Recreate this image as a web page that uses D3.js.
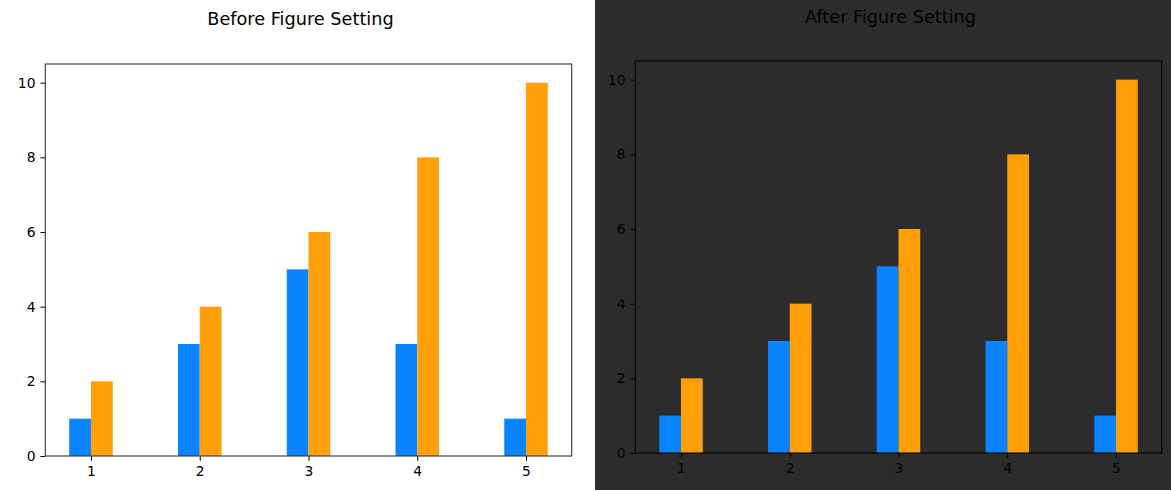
<!DOCTYPE html>
<html>
<head>
<meta charset="utf-8">
<script src="https://cdn.jsdelivr.net/npm/d3@7"></script>
<style>
  html, body { margin: 0; padding: 0; background: #ffffff; }
  svg { display: block; }
  text { font-family: "DejaVu Sans", sans-serif; }
</style>
</head>
<body>
<svg id="chart" width="1171" height="490"></svg>
<script>
const categories = [1, 2, 3, 4, 5];
const seriesA = [1, 3, 5, 3, 1];
const seriesB = [2, 4, 6, 8, 10];
const yTickValues = [0, 2, 4, 6, 8, 10];
const titles = ["Before Figure Setting", "After Figure Setting"];

const svg = d3.select("#chart");
const W = 1171, H = 490;

const panels = [
  { x0: 0, x1: 595, bg: "#ffffff", left: 45.3, right: 571.7, top: 64, bottom: 456, fg: "#000000", frame: "#333333", titleY: 25, title: titles[0] },
  { x0: 595, x1: 1171, bg: "#2c2c2e", left: 635.3, right: 1161.7, top: 61, bottom: 453, fg: "#000000", frame: "#000000", titleY: 23, title: titles[1] }
];

const barW = 0.2;
const colorA = "#0a84ff";
const colorB = "#ff9f0a";

panels.forEach(p => {
  const g = svg.append("g");
  g.append("rect").attr("x", p.x0).attr("y", 0).attr("width", p.x1 - p.x0).attr("height", H).attr("fill", p.bg);

  const x = d3.scaleLinear().domain([0.58, 5.42]).range([p.left, p.right]);
  const y = d3.scaleLinear().domain([0, 10.5]).range([p.bottom, p.top]);

  g.selectAll(".barA").data(categories).enter().append("rect")
    .attr("x", (d) => x(d - barW))
    .attr("width", (d) => x(d) - x(d - barW))
    .attr("y", (d, i) => y(seriesA[i]))
    .attr("height", (d, i) => y(0) - y(seriesA[i]))
    .attr("fill", colorA);
  g.selectAll(".barB").data(categories).enter().append("rect")
    .attr("x", (d) => x(d))
    .attr("width", (d) => x(d + barW) - x(d))
    .attr("y", (d, i) => y(seriesB[i]))
    .attr("height", (d, i) => y(0) - y(seriesB[i]))
    .attr("fill", colorB);

  const xAxis = d3.axisBottom(x).tickValues(categories).tickSizeInner(4.9).tickSizeOuter(0).tickPadding(4.9).tickFormat(d3.format("d"));
  const yAxis = d3.axisLeft(y).tickValues(yTickValues).tickSizeInner(4.9).tickSizeOuter(0).tickPadding(4.9).tickFormat(d3.format("d"));

  const gx = g.append("g").attr("transform", `translate(0,${p.bottom})`).call(xAxis);
  const gy = g.append("g").attr("transform", `translate(${p.left},0)`).call(yAxis);
  [gx, gy].forEach(ax => {
    ax.select(".domain").remove();
    ax.selectAll(".tick line").attr("stroke", p.fg).attr("stroke-width", 1);
    ax.selectAll(".tick text").attr("fill", p.fg).style("font-size", "13.9px").style("font-family", "DejaVu Sans, sans-serif");
  });

  g.append("rect")
    .attr("x", p.left).attr("y", p.top)
    .attr("width", p.right - p.left).attr("height", p.bottom - p.top)
    .attr("fill", "none").attr("stroke", p.frame).attr("stroke-width", 1.1);

  g.append("text")
    .attr("x", (p.left + p.right) / 2 - 8)
    .attr("y", p.titleY)
    .attr("text-anchor", "middle")
    .attr("fill", p.fg)
    .style("font-size", "17.7px")
    .text(p.title);
});
</script>
</body>
</html>
